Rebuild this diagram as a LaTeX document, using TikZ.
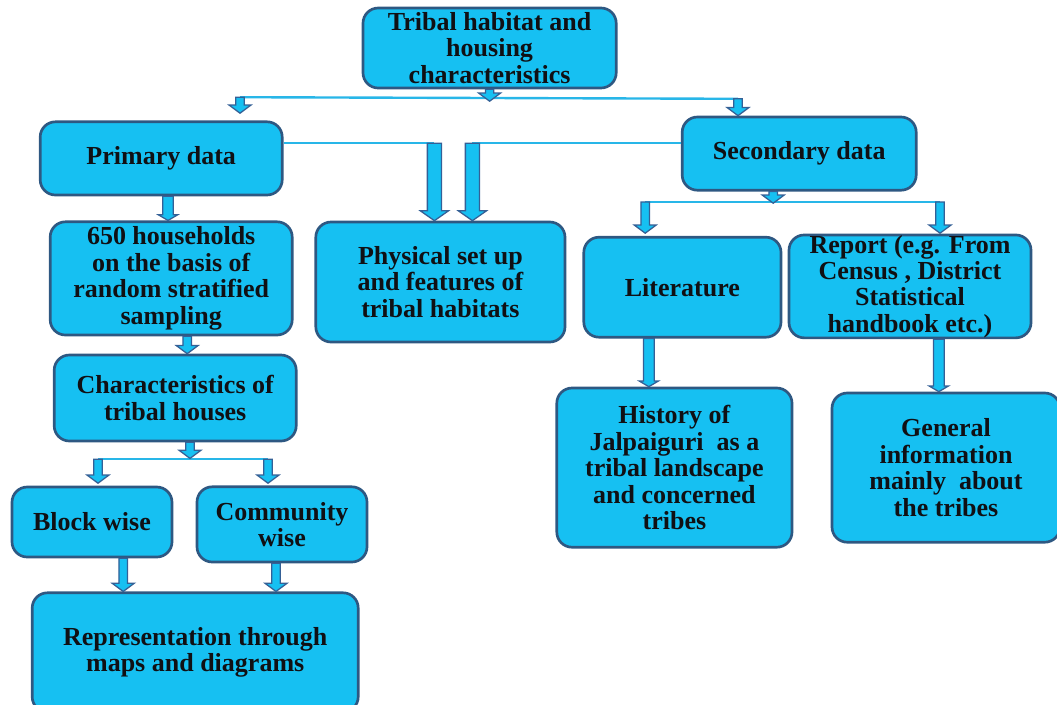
\documentclass[tikz,border=0pt]{standalone}
\usepackage{fontspec}
\setmainfont{Liberation Serif}
\usetikzlibrary{calc}

\definecolor{boxfill}{RGB}{22,192,242}
\definecolor{boxedge}{RGB}{46,88,130}
\definecolor{arrowedge}{RGB}{52,96,150}
\definecolor{linkcol}{RGB}{40,182,232}
\definecolor{inkcol}{RGB}{16,16,20}

\tikzset{
  box/.style={draw=boxedge, fill=boxfill, line width=1.9pt, rounded corners=0.38cm,
    align=center, inner sep=0pt, text=inkcol,
    font=\bfseries\fontsize{18.5}{18.8}\selectfont},
  link/.style={draw=linkcol, line width=1.7pt},
  blockarr/.style n args={3}{draw=arrowedge, fill=boxfill, line width=0.9pt, line join=miter,
    to path={let \p1=(\tikztostart), \p2=(\tikztotarget) in
      (\x1-#1,\y1) -- (\x1-#1,\y2+#3) -- (\x1-#2,\y2+#3) -- (\x1,\y2)
      -- (\x1+#2,\y2+#3) -- (\x1+#1,\y2+#3) -- (\x1+#1,\y1) -- cycle}},
  smallarr/.style={blockarr={3pt}{7.8pt}{5.8pt}},
  widearr/.style={blockarr={5pt}{10pt}{7pt}},
  longarr/.style={blockarr={3.8pt}{6.8pt}{4pt}}
}

\begin{document}
\begin{tikzpicture}
\useasboundingbox (0,0) rectangle (26.425,-17.6);

\node[box, minimum width=6.33cm, minimum height=2.00cm] (top) at (12.24,-1.20) {Tribal habitat and\\housing\\characteristics};
\node[box, minimum width=6.05cm, minimum height=1.83cm] (prim) at (4.03,-3.96) {\raisebox{-3pt}{Primary data}};
\node[box, minimum width=5.85cm, minimum height=1.83cm] (sec) at (19.98,-3.84) {\raisebox{-3pt}{Secondary data}};
\node[box, minimum width=6.05cm, minimum height=2.83cm] (hh) at (4.28,-6.96) {650 households\\on the basis of\\random stratified\\sampling};
\node[box, minimum width=6.23cm, minimum height=3.00cm] (phys) at (11.01,-7.05) {Physical set up\\and features of\\tribal habitats};
\node[box, minimum width=4.93cm, minimum height=2.50cm] (lit) at (17.06,-7.18) {Literature};
\node[box, minimum width=6.05cm, minimum height=2.48cm] (rep) at (22.75,-7.16) {Report (e.g. From\\Census , District\\Statistical\\handbook etc.)};
\node[box, minimum width=6.05cm, minimum height=2.15cm] (char) at (4.38,-9.95) {Characteristics of\\tribal houses};
\node[box, minimum width=4.00cm, minimum height=1.75cm] (block) at (2.30,-13.05) {Block wise};
\node[box, minimum width=4.25cm, minimum height=1.88cm] (comm) at (7.05,-13.11) {Community\\wise};
\node[box, minimum width=8.15cm, minimum height=2.98cm] (repr) at (4.88,-16.31) {Representation through\\maps and diagrams};
\node[box, minimum width=5.88cm, minimum height=3.98cm] (hist) at (16.86,-11.69) {History of\\Jalpaiguri~ as a\\tribal landscape\\and concerned\\tribes};
\node[box, minimum width=5.70cm, minimum height=3.73cm] (gen) at (23.65,-11.69) {General\\information\\mainly~ about\\the tribes};

\coordinate (t0) at (12.24,-2.53);
\coordinate (tl) at (6.00,-2.43);
\coordinate (tr) at (18.45,-2.47);
\coordinate (tl1) at (6.00,-2.83);
\coordinate (pa) at (10.86,-3.58);
\coordinate (pb) at (11.81,-3.58);
\coordinate (s0) at (19.33,-5.08);
\coordinate (sl) at (16.13,-5.05);
\coordinate (sr) at (23.50,-5.05);
\coordinate (sl1) at (16.13,-5.83);
\coordinate (sr1) at (23.50,-5.83);
\coordinate (h0) at (4.20,0);
\coordinate (h1) at (4.68,0);
\coordinate (c0) at (4.75,-11.46);
\coordinate (cl) at (2.45,-11.48);
\coordinate (cr) at (6.70,-11.48);
\coordinate (cl1) at (2.45,-12.08);
\coordinate (cr1) at (6.70,-12.08);
\coordinate (b0) at (3.08,0);
\coordinate (m0) at (6.90,0);
\coordinate (l0) at (16.22,0);
\coordinate (r0) at (23.47,0);

\draw[link] (tl) -- (tr);
\draw[link] (prim.east |- pa) -- (pa);
\draw[link] (sec.west |- pb) -- (pb);
\draw[link] (sl) -- (sr);
\draw[link] (cl) -- (cr);

\draw[smallarr] (top.south) to (t0);
\draw[smallarr] (tl) to (tl1);
\draw[smallarr] (tr) to (sec.north -| tr);
\draw[widearr] (pa) to (phys.north -| pa);
\draw[widearr] (pb) to (phys.north -| pb);
\draw[smallarr] (sec.south -| s0) to (s0);
\draw[smallarr] (sl) to (sl1);
\draw[smallarr] (sr) to (sr1);
\draw[longarr] (prim.south -| h0) to (hh.north -| h0);
\draw[smallarr] (hh.south -| h1) to (char.north -| h1);
\draw[smallarr] (char.south -| c0) to (c0);
\draw[smallarr] (cl) to (cl1);
\draw[smallarr] (cr) to (cr1);
\draw[smallarr] (block.south -| b0) to (repr.north -| b0);
\draw[smallarr] (comm.south -| m0) to (repr.north -| m0);
\draw[longarr] (lit.south -| l0) to (hist.north -| l0);
\draw[longarr] (rep.south -| r0) to (gen.north -| r0);
\end{tikzpicture}
\end{document}
